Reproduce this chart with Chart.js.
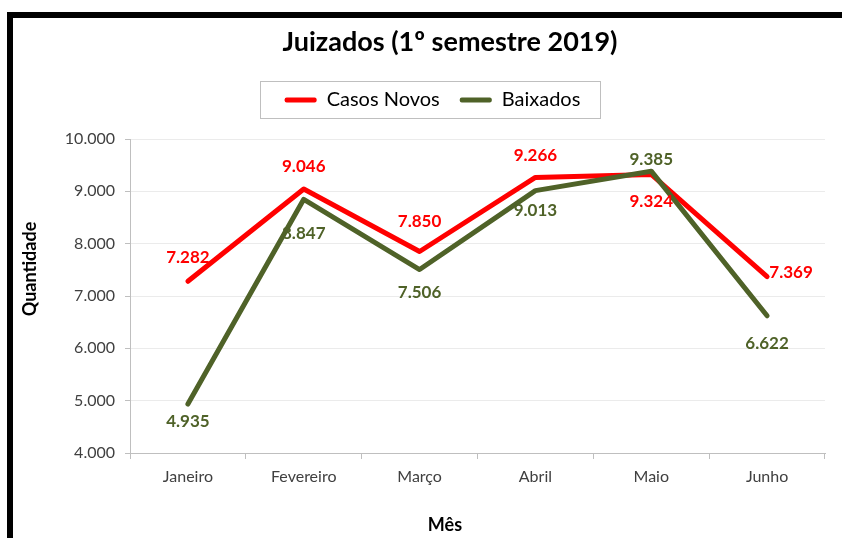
<!DOCTYPE html>
<html><head><meta charset="utf-8">
<script src="https://cdn.jsdelivr.net/npm/chart.js@4/dist/chart.umd.min.js"></script>
<style>html,body{margin:0;padding:0;background:#fff;overflow:hidden}</style>
</head><body>
<canvas id="c" width="842" height="538"></canvas>
<script>
const categories = ['Janeiro', 'Fevereiro', 'Março', 'Abril', 'Maio', 'Junho'];
const casosNovos = [7282, 9046, 7850, 9266, 9324, 7369];
const baixados = [4935, 8847, 7506, 9013, 9385, 6622];
const yMin = 4000, yMax = 10000, yStep = 1000;
const chartTitle = 'Juizados (1º semestre 2019)';
const yTitle = 'Quantidade';
const xTitle = 'Mês';
const seriesNames = ['Casos Novos', 'Baixados'];

// label placement (pixel offsets from the point)
const casosLabelOffsets = [[0,-24],[0,-22],[0,-30],[0,-22],[0,27],[24,-4]];
const baixadosLabelOffsets = [[0,17],[0,34],[0,23],[0,20],[0,-12],[0,28]];

const RED = '#FF0000', GREEN = '#4F6228';
const FONT = 'Lato, "Open Sans", sans-serif';

const fmt = v => String(v).replace(/\B(?=(\d{3})+(?!\d))/g, '.');

const framePlugin = {
  id: 'frame',
  beforeDraw(chart) {
    const ctx = chart.ctx;
    ctx.save();
    ctx.fillStyle = '#fff';
    ctx.fillRect(0, 0, chart.width, chart.height);
    ctx.fillStyle = '#000';
    ctx.fillRect(7, 12, chart.width - 7, 6);
    ctx.fillRect(7, 12, 6, chart.height - 12);
    ctx.restore();
  },
  afterDraw(chart) {
    const ctx = chart.ctx;
    const lg = chart.legend;
    ctx.save();
    if (lg && lg.legendHitBoxes && lg.legendHitBoxes.length) {
      const hb = lg.legendHitBoxes;
      const l = hb[0].left - 25, r = hb[hb.length-1].left + hb[hb.length-1].width + 19;
      const cy = hb[0].top + hb[0].height / 2;
      ctx.strokeStyle = '#bfbfbf';
      ctx.lineWidth = 1;
      ctx.strokeRect(Math.round(l) + 0.5, Math.round(cy - 19) + 0.5, Math.round(r - l), 37);
    }
    ctx.fillStyle = '#000';
    ctx.textAlign = 'center';
    ctx.textBaseline = 'middle';
    // chart title
    ctx.font = 'bold 27px ' + FONT;
    ctx.fillText(chartTitle, 450, 42);
    // axis titles
    ctx.font = 'bold 18px ' + FONT;
    ctx.fillText(xTitle, 445, 525);
    ctx.translate(30, 269);
    ctx.rotate(-Math.PI / 2);
    ctx.fillText(yTitle, 0, 0);
    ctx.restore();
  }
};

const labelPlugin = {
  id: 'pointLabels',
  afterDatasetsDraw(chart) {
    const ctx = chart.ctx;
    ctx.save();
    ctx.font = 'bold 17px ' + FONT;
    ctx.textAlign = 'center';
    ctx.textBaseline = 'middle';
    chart.data.datasets.forEach((ds, di) => {
      const meta = chart.getDatasetMeta(di);
      const offs = ds.labelOffsets;
      meta.data.forEach((pt, i) => {
        ctx.fillStyle = ds.borderColor;
        ctx.fillText(fmt(ds.data[i]), pt.x + offs[i][0], pt.y + offs[i][1]);
      });
    });
    ctx.restore();
  }
};

new Chart(document.getElementById('c'), {
  type: 'line',
  data: {
    labels: categories,
    datasets: [
      { label: seriesNames[0], data: casosNovos, borderColor: RED, backgroundColor: RED,
        borderWidth: 5, pointRadius: 0, tension: 0, order: 1,
        borderCapStyle: 'round', borderJoinStyle: 'round', labelOffsets: casosLabelOffsets },
      { label: seriesNames[1], data: baixados, borderColor: GREEN, backgroundColor: GREEN,
        borderWidth: 5, pointRadius: 0, tension: 0, order: 0,
        borderCapStyle: 'round', borderJoinStyle: 'round', labelOffsets: baixadosLabelOffsets }
    ]
  },
  options: {
    responsive: false,
    animation: false,
    layout: { padding: { top: 70, left: 40, right: 17, bottom: 0 } },
    plugins: {
      title: { display: false },
      subtitle: { display: true, text: '', weight: 500,
        font: { size: 9, lineHeight: 1 }, padding: { top: 5, bottom: 5 } },
      legend: {
        display: true, position: 'top',
        labels: {
          color: '#000', boxWidth: 32, boxHeight: 5, padding: 20,
          font: { family: FONT, size: 20 },
          sort: (a, b) => a.datasetIndex - b.datasetIndex,
          generateLabels(chart) {
            return chart.data.datasets.map((ds, i) => ({
              text: ds.label, fillStyle: ds.borderColor, strokeStyle: ds.borderColor,
              lineWidth: 0, borderRadius: 2, datasetIndex: i, hidden: false, fontColor: '#000'
            }));
          }
        }
      },
      tooltip: { enabled: false }
    },
    scales: {
      x: {
        offset: true,
        grid: { display: true, drawOnChartArea: false, offset: true, tickLength: 6, tickColor: '#bfbfbf' },
        border: { color: '#bfbfbf', width: 1 },
        ticks: { color: '#404040', font: { family: FONT, size: 16 }, padding: 8, maxRotation: 0 },
        afterFit(s) { s.height = 85; }
      },
      y: {
        min: yMin, max: yMax,
        grid: { color: '#ebebeb', tickLength: 5, tickColor: '#bfbfbf' },
        border: { color: '#bfbfbf', width: 1 },
        ticks: { stepSize: yStep, color: '#404040', font: { family: FONT, size: 16 }, padding: 10,
          callback: v => fmt(v) },
        afterFit(s) { s.width = 90; }
      }
    }
  },
  plugins: [framePlugin, labelPlugin]
});
</script>
</body></html>
